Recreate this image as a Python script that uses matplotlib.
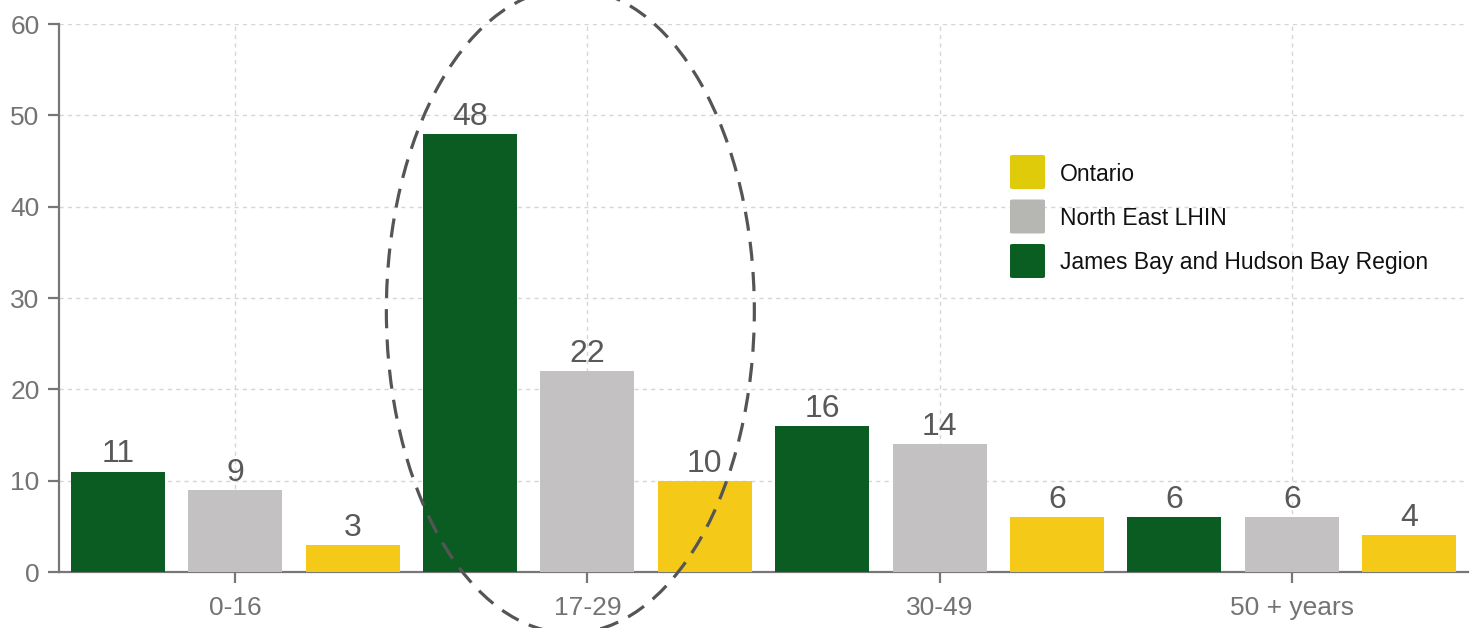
import numpy as np
import matplotlib
matplotlib.use("Agg")
import matplotlib.pyplot as plt
from matplotlib.patches import Ellipse, FancyBboxPatch

plt.rcParams['font.family'] = ['Liberation Sans', 'DejaVu Sans']

# Age groups and the share (%) for each region
age_groups = ["0-16", "17-29", "30-49", "50 + years"]
james_bay = [11, 48, 16, 6]
north_east = [9, 22, 14, 6]
ontario = [3, 10, 6, 4]

series_names = ["James Bay and Hudson Bay Region", "North East LHIN", "Ontario"]
bar_colors = ["#0a5c22", "#c3c1c1", "#f5c918"]
legend_order = ["Ontario", "North East LHIN", "James Bay and Hudson Bay Region"]
legend_colors = ["#e0cb0a", "#b6b7b2", "#0b5e22"]

W, H, DPI = 1477, 628, 100
fig = plt.figure(figsize=(W / DPI, H / DPI), dpi=DPI)
ax = fig.add_axes([59 / W, (H - 572) / H, (1468 - 59) / W, (572 - 24) / H])

n_groups = len(age_groups)
n_series = len(series_names)
values = [james_bay, north_east, ontario]

for j, (vals, col) in enumerate(zip(values, bar_colors)):
    x = np.arange(n_groups) * n_series + j
    ax.bar(x, vals, width=0.8, color=col, zorder=3)
    for xi, v in zip(x, vals):
        ax.annotate(f"{v}", (xi, v), xytext=(0, 1.5), textcoords="offset points",
                    ha="center", va="bottom", fontsize=23, color="#595959", zorder=4)

ax.set_xlim(-0.5, n_groups * n_series - 0.5)
ax.set_ylim(0, 60)
ax.set_yticks(np.arange(0, 61, 10))
ax.set_xticks(np.arange(n_groups) * n_series + 1)
ax.set_xticklabels(age_groups)

ax.grid(True, color="#d6d6d6", linestyle=(0, (3, 3)), linewidth=1.0, zorder=0)
ax.set_axisbelow(True)

for s in ["top", "right"]:
    ax.spines[s].set_visible(False)
for s in ["left", "bottom"]:
    ax.spines[s].set_color("#777777")
    ax.spines[s].set_linewidth(1.6)

ax.tick_params(axis="both", colors="#777777", length=8, width=1.6,
               labelsize=19, labelcolor="#737373")
ax.tick_params(axis="y", pad=6)
ax.tick_params(axis="x", pad=9)

# Highlight ring around the 17-29 group
ring = Ellipse((3.855, 28.6), width=2 * 1.567, height=2 * 35.3,
               fill=False, edgecolor="#555555", linewidth=2.3,
               linestyle=(0, (6, 3.5)), zorder=5, clip_on=False)
ax.add_patch(ring)

# Legend: colour swatches with labels, stacked in the upper right
sw_left, sw_w, sw_h, row_top, row_step = 1010, 35, 34, 155, 44.5
for k, (name, col) in enumerate(zip(legend_order, legend_colors)):
    top = row_top + k * row_step
    sw = FancyBboxPatch(((sw_left) / W, (H - top - sw_h) / H), sw_w / W, sw_h / H,
                        boxstyle="round,pad=0,rounding_size=0.002",
                        transform=fig.transFigure, facecolor=col, edgecolor="none")
    fig.add_artist(sw)
    fig.text((sw_left + sw_w + 15) / W, (H - top - sw_h / 2 - 2) / H, name,
             fontsize=16.5, color="#111111", ha="left", va="center")

fig.savefig("out.png", dpi=DPI)
